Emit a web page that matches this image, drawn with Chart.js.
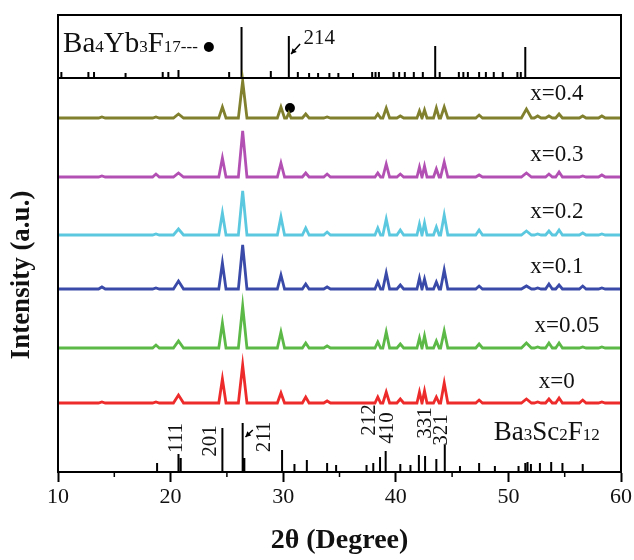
<!DOCTYPE html>
<html>
<head>
<meta charset="utf-8">
<script src="https://cdn.jsdelivr.net/npm/chart.js@4.4.1/dist/chart.umd.min.js"></script>
<style>
  html, body { margin: 0; background: #fff; }
  canvas { display: block; }
</style>
</head>
<body>
<canvas id="xrd" width="634" height="560"></canvas>
<script>
// 2-theta positions of the peaks seen in the measured patterns, and their half widths at the base
const PEAK_POS  = [13.9, 18.7, 20.7, 24.6, 26.4, 29.8, 30.5, 32.0, 33.9, 38.4, 39.15, 40.4, 42.1, 42.55, 43.6, 44.3, 47.4, 51.6, 52.6, 53.6, 54.5, 56.6, 58.3];
const PEAK_HALF = [0.3, 0.3, 0.45, 0.32, 0.38, 0.32, 0.2, 0.3, 0.3, 0.25, 0.3, 0.3, 0.22, 0.22, 0.25, 0.32, 0.3, 0.45, 0.3, 0.3, 0.3, 0.3, 0.3];

const SAMPLES = ['x=0.4', 'x=0.3', 'x=0.2', 'x=0.1', 'x=0.05', 'x=0'];
// vertical offset of each stacked pattern (a.u.)
const OFFSETS = [354, 295, 237, 183, 124, 69];
// peak heights above the offset, one list per sample, aligned with PEAK_POS
const H_04  = [1, 1, 4, 11, 37, 11, 5, 4, 1, 4, 10, 2, 7, 8, 10, 11, 3, 9, 2, 2, 4, 2, 2];
const H_03  = [1, 3, 4, 19, 46, 14, 0, 4, 3, 4, 13, 3, 10, 11, 8, 15, 2, 4, 0, 3, 5, 1, 2];
const H_02  = [0, 1, 6, 22, 44, 18, 0, 7, 3, 7, 16, 5, 11, 12, 8, 20, 5, 4, 1, 4, 5, 2, 1];
const H_01  = [2, 1, 8, 26, 44, 14, 0, 5, 2, 7, 16, 4, 11, 10, 7, 19, 3, 3, 1, 5, 4, 3, 1];
const H_005 = [0, 3, 7, 25, 42, 16, 0, 5, 2, 6, 16, 4, 10, 12, 7, 17, 4, 5, 1, 5, 5, 1, 1];
const H_0   = [1, 1, 8, 24, 38, 10, 0, 6, 2, 6, 11, 4, 11, 12, 6, 20, 3, 4, 1, 4, 5, 3, 1];
const HEIGHTS = [H_04, H_03, H_02, H_01, H_005, H_0];

// reference pattern Ba3Sc2F12 (bottom)
const SC_POS = [18.8, 20.7, 20.9, 24.6, 26.4, 26.55, 29.9, 31.0, 32.1, 33.9, 34.7, 37.4, 38.0, 38.6, 39.1, 40.4, 41.3, 42.05, 42.6, 43.6, 44.35, 45.7, 47.4, 48.8, 50.9, 51.5, 51.7, 52.0, 52.8, 53.8, 54.8, 56.6];
const SC_H   = [9, 18, 14, 44, 49, 14, 22, 8, 12, 9, 7, 7, 9, 15, 21, 8, 7, 17, 16, 13, 27, 6, 9, 6, 6, 9, 10, 8, 9, 10, 9, 8];
const HKL      = ['111', '201', '211', '212', '410', '331', '321'];

// reference pattern Ba4Yb3F17 (top panel)
const YB_BASE = 394;
const YB_POS = [10.3, 12.7, 13.2, 16.0, 19.3, 19.8, 20.7, 25.2, 26.3, 28.9, 30.5, 31.3, 32.3, 33.1, 34.1, 34.9, 36.2, 37.9, 38.2, 38.5, 39.8, 40.3, 40.8, 41.6, 42.4, 43.5, 43.9, 45.6, 46.0, 46.4, 47.4, 48.0, 48.7, 49.5, 50.8, 51.1, 51.5];
const YB_H   = [6, 6, 6, 5, 6, 6, 8, 6, 51, 7, 42, 6, 5, 5, 5, 5, 5, 6, 6, 6, 6, 6, 6, 6, 6, 32, 6, 6, 6, 6, 6, 6, 6, 6, 6, 6, 31];

// impurity marker (Ba4Yb3F17 peak on x=0.4) and legend dot
const MARKS = [{x: 30.6, y: 364}, {x: 23.4, y: 425}];

const X_TICKS = [10, 20, 30, 40, 50, 60];

const COLORS = ['#80802f', '#b350b3', '#5cc8df', '#3a4aa8', '#5cb947', '#ee2b2b'];
const SERIF = '"Liberation Serif", "DejaVu Serif", serif';

function profile(base, heights) {
    const pts = [{x: X_TICKS[0], y: base}];
    PEAK_POS.forEach((p, i) => {
        const h = heights[i];
        if (!h) return;
        const w = PEAK_HALF[i];
        pts.push({x: p - w, y: base}, {x: p, y: base + h}, {x: p + w, y: base});
    });
    pts.push({x: X_TICKS[X_TICKS.length - 1], y: base});
    return pts.sort((a, b) => a.x - b.x);
}

function sticks(base, pos, h) {
    const pts = [];
    pos.forEach((p, i) => pts.push({x: p, y: base}, {x: p, y: base + h[i]}, {x: p, y: null}));
    return pts;
}

// label placement, in data units
const SAMPLE_LABEL_AT = [[54.3, 372], [54.3, 311], [54.3, 254], [54.3, 199], [55.2, 140], [54.3, 84]];
const HKL_AT = [[20.55, 34], [23.5, 31], [28.3, 35], [37.7, 52], [39.3, 44], [42.6, 49], [44.1, 42]];

function drawChem(ctx, parts, x, y, big, small) {
    parts.forEach(([t, sub]) => {
        ctx.font = (sub ? small : big) + 'px ' + SERIF;
        ctx.fillText(t, x, y);
        x += ctx.measureText(t).width;
    });
}

function arrow(ctx, x0, y0, x1, y1) {
    ctx.beginPath(); ctx.moveTo(x0, y0); ctx.lineTo(x1, y1); ctx.stroke();
    const a = Math.atan2(y1 - y0, x1 - x0), L = 6;
    ctx.beginPath();
    ctx.moveTo(x1, y1);
    ctx.lineTo(x1 - L * Math.cos(a - 0.5), y1 - L * Math.sin(a - 0.5));
    ctx.lineTo(x1 - L * Math.cos(a + 0.5), y1 - L * Math.sin(a + 0.5));
    ctx.closePath(); ctx.fill();
}

const decor = {
    id: 'decor',
    afterDraw(chart) {
        const {ctx, chartArea: a, scales: {x, y}} = chart;
        const px = v => x.getPixelForValue(v), py = v => y.getPixelForValue(v);
        ctx.save();
        ctx.strokeStyle = '#000'; ctx.fillStyle = '#111';

        // frame and panel divider
        ctx.lineWidth = 2;
        ctx.strokeRect(a.left, a.top, a.right - a.left, a.bottom - a.top);
        ctx.beginPath(); ctx.moveTo(a.left, py(YB_BASE)); ctx.lineTo(a.right, py(YB_BASE)); ctx.stroke();

        // minor ticks every 5 degrees
        ctx.lineWidth = 1.5;
        for (let v = X_TICKS[0] + 5; v < X_TICKS[X_TICKS.length - 1]; v += 10) {
            ctx.beginPath(); ctx.moveTo(px(v), a.bottom); ctx.lineTo(px(v), a.bottom + 5); ctx.stroke();
        }

        // sample labels
        ctx.textAlign = 'center'; ctx.textBaseline = 'alphabetic';
        ctx.font = '23px ' + SERIF;
        SAMPLES.forEach((s, i) => ctx.fillText(s, px(SAMPLE_LABEL_AT[i][0]), py(SAMPLE_LABEL_AT[i][1])));

        // hkl labels, rotated
        ctx.font = '21px ' + SERIF;
        ctx.textBaseline = 'middle';
        HKL.forEach((t, i) => {
            ctx.save();
            ctx.translate(px(HKL_AT[i][0]), py(HKL_AT[i][1]));
            ctx.rotate(-Math.PI / 2);
            ctx.fillText(t, 0, 0);
            ctx.restore();
        });

        // phase names
        ctx.textAlign = 'left'; ctx.textBaseline = 'alphabetic';
        drawChem(ctx, [['Ba', 0], ['3', 1], ['Sc', 0], ['2', 1], ['F', 0], ['12', 1]], px(48.7), py(32), 27, 17);
        drawChem(ctx, [['Ba', 0], ['4', 1], ['Yb', 0], ['3', 1], ['F', 0], ['17', 1], ['---', 1]], px(10.45), py(420), 29, 17);
        ctx.font = '21px ' + SERIF;
        ctx.fillText('214', px(31.8), py(428));

        // arrows pointing at 211 and 214 reflections
        ctx.lineWidth = 1.5; ctx.fillStyle = '#000';
        arrow(ctx, px(27.3), py(42), px(26.65), py(35));
        arrow(ctx, px(31.5), py(428), px(30.7), py(418));

        // axis title on the left
        ctx.save();
        ctx.translate(22, (py(YB_BASE) + a.bottom) / 2);
        ctx.rotate(-Math.PI / 2);
        ctx.textAlign = 'center'; ctx.textBaseline = 'middle';
        ctx.font = 'bold 27px ' + SERIF;
        ctx.fillStyle = '#111';
        ctx.fillText('Intensity (a.u.)', 0, 0);
        ctx.restore();
        ctx.restore();
    }
};

const datasets = SAMPLES.map((s, i) => ({
    label: s,
    data: profile(OFFSETS[i], HEIGHTS[i]),
    borderColor: COLORS[i],
    borderWidth: 2.8,
    pointRadius: 0,
    tension: 0
}));
datasets.push({
    label: 'Ba3Sc2F12',
    data: sticks(0, SC_POS, SC_H),
    borderColor: '#000', borderWidth: 2, pointRadius: 0, spanGaps: false
});
datasets.push({
    label: 'Ba4Yb3F17',
    data: sticks(YB_BASE, YB_POS, YB_H),
    borderColor: '#000', borderWidth: 2, pointRadius: 0, spanGaps: false
});
datasets.push({
    label: 'marks',
    data: MARKS,
    showLine: false,
    pointRadius: 5, pointBackgroundColor: '#000', pointBorderWidth: 0
});

new Chart(document.getElementById('xrd'), {
    type: 'line',
    data: { datasets },
    options: {
        responsive: false,
        animation: false,
        events: [],
        layout: { padding: { top: 15, left: 58, right: 12, bottom: 0 } },
        plugins: { legend: { display: false }, tooltip: { enabled: false } },
        scales: {
            x: {
                type: 'linear', min: 10, max: 60,
                afterFit: s => { s.height = 88; },
                afterBuildTicks: s => { s.ticks = X_TICKS.map(v => ({value: v})); },
                grid: { drawOnChartArea: false, drawTicks: true, tickLength: 10, tickWidth: 2, tickColor: '#000' },
                border: { display: true, color: '#000', width: 2 },
                ticks: { font: { family: SERIF, size: 22 }, color: '#111', padding: 2, maxRotation: 0 },
                title: { display: true, text: '2θ (Degree)', font: { family: SERIF, size: 28, weight: 'bold' }, color: '#111', padding: { top: 0, bottom: 2 } }
            },
            y: { type: 'linear', display: false, min: 0, max: 457 }
        }
    },
    plugins: [decor]
});
</script>
</body>
</html>
